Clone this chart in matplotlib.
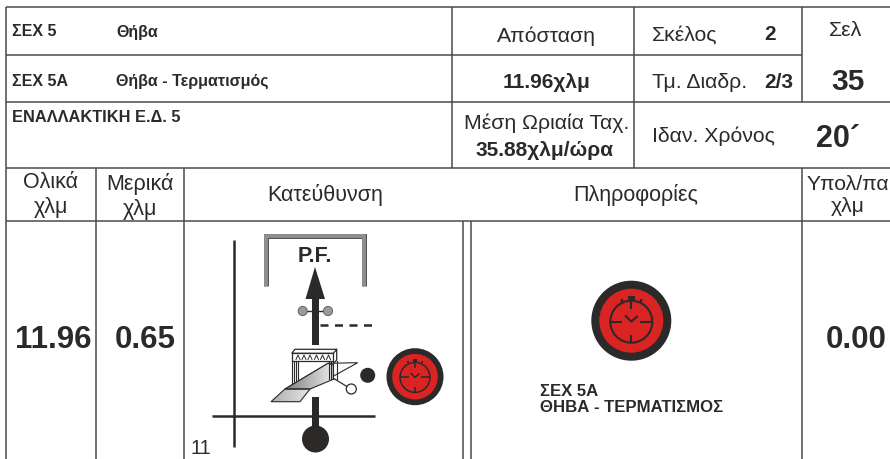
"""
Road book sheet, one page: stage header, table row and junction sketch.
"""

import matplotlib

matplotlib.use("Agg")
import matplotlib.pyplot as plt
import numpy as np
from matplotlib.patches import Circle, Polygon

plt.rcParams["font.family"] = ["Liberation Sans", "DejaVu Sans"]

INK = "#2b2a29"
RULE = "#4a4a4a"
RED = "#da2424"
GREY = "#9a9a9a"

stage_codes = ["ΣΕΧ 5", "ΣΕΧ 5Α"]
stage_names = ["Θήβα", "Θήβα - Τερματισμός"]
alt_route = "ΕΝΑΛΛΑΚΤΙΚΗ Ε.Δ. 5"
distance_label = "Απόσταση"
distance_value = "11.96χλμ"
leg_label, leg_value = "Σκέλος", "2"
section_label, section_value = "Τμ. Διαδρ.", "2/3"
page_label, page_value = "Σελ", "35"
speed_label, speed_value = "Μέση Ωριαία Ταχ.", "35.88χλμ/ώρα"
time_label, time_value = "Ιδαν. Χρόνος", "20´"
col_headers = ["Ολικά\nχλμ", "Μερικά\nχλμ", "Κατεύθυνση", "Πληροφορίες", "Υπολ/πα\nχλμ"]
row_values = ["11.96", "0.65", "0.00"]
info_lines = "ΣΕΧ 5Α\nΘΗΒΑ - ΤΕΡΜΑΤΙΣΜΟΣ"
road_number = "11"
sketch_label = "P.F."


def label(ax, x, y, s, size, weight="normal", ha="center", va="center", **kw):
    ax.text(x, y, s, fontsize=size, fontweight=weight, ha=ha, va=va, color=INK, **kw)


def stopwatch(ax, cx, cy, r, zorder=5):
    k = r / 40.0
    ax.add_patch(Circle((cx, cy), r, fc=INK, ec="none", zorder=zorder))
    ax.add_patch(Circle((cx, cy), 32 * k, fc=RED, ec="none", zorder=zorder + 1))
    dy = 1 * k
    lw = 1.4 * k + 0.1
    ax.add_patch(Circle((cx, cy + dy), 21 * k, fc="none", ec=INK, lw=lw, zorder=zorder + 2))
    for dx0, dy0, dx1, dy1 in [(0, -21, 0, -13), (0, 21, 0, 13), (-21, 0, -9, 0), (21, 0, 9, 0)]:
        ax.plot(
            [cx + dx0 * k, cx + dx1 * k],
            [cy + dy + dy0 * k, cy + dy + dy1 * k],
            color=INK, lw=lw, zorder=zorder + 2, solid_capstyle="butt",
        )
    # hands
    ax.plot(
        [cx - 5.5 * k, cx, cx + 5.5 * k],
        [cy - 4.5 * k, cy + 1 * k, cy - 4 * k],
        color=INK, lw=lw, zorder=zorder + 2,
    )
    # crown and lugs
    ax.fill_between(
        [cx - 3.5 * k, cx + 3.5 * k], cy - 25 * k, cy - 20 * k, color=INK, lw=0, zorder=zorder + 2
    )
    for side in (-1, 1):
        ax.plot(
            [cx + side * 9.5 * k, cx + side * 9.5 * k], [cy - 22 * k, cy - 19 * k],
            color=INK, lw=lw * 1.2, zorder=zorder + 2, solid_capstyle="butt",
        )


def shaded(ax, corners, lo, hi, zorder=3.5):
    patch = Polygon(corners, closed=True, fc="none", ec=INK, lw=0.8, zorder=zorder + 0.5)
    ax.add_patch(patch)
    xs = [c[0] for c in corners]
    ys = [c[1] for c in corners]
    im = ax.imshow(
        np.linspace(lo, hi, 64).reshape(1, -1), cmap="gray", vmin=0, vmax=1,
        extent=(min(xs), max(xs), max(ys), min(ys)), aspect="auto", zorder=zorder,
    )
    im.set_clip_path(patch)


def main():
    fig = plt.figure(figsize=(8.9, 4.59), dpi=100)
    ax = fig.add_axes([0, 0, 1, 1])
    ax.set_xlim(0, 890)
    ax.set_ylim(459, 0)
    ax.axis("off")

    # Table rules ##########################################################
    for y, x0, x1 in [
        (7, 6, 890), (55, 6, 801.5), (101.5, 6, 890), (168, 6, 890), (220.5, 6, 890),
    ]:
        ax.plot([x0, x1], [y, y], color=RULE, lw=1.1, solid_capstyle="butt")
    for x, y0, y1 in [
        (6, 7, 459), (95.5, 168, 459), (183.5, 168, 459), (452, 7, 168),
        (633.5, 7, 168), (801.5, 7, 101.5), (801.5, 168, 459), (463, 220.5, 459), (470.5, 220.5, 459),
    ]:
        ax.plot([x, x], [y0, y1], color=RULE, lw=1.1, solid_capstyle="butt")

    # Header ###############################################################
    label(ax, 12, 32, stage_codes[0], 11.5, "bold", ha="left")
    label(ax, 116, 32, stage_names[0], 11.5, "bold", ha="left")
    label(ax, 12, 81, stage_codes[1], 11.5, "bold", ha="left")
    label(ax, 116, 81, stage_names[1], 11.5, "bold", ha="left")
    label(ax, 12, 118, alt_route, 11.8, "bold", ha="left")

    label(ax, 546, 36, distance_label, 15.3)
    label(ax, 546.5, 82.5, distance_value, 15, "bold")
    label(ax, 652, 35, leg_label, 15.3, ha="left")
    label(ax, 770.5, 35, leg_value, 15, "bold")
    label(ax, 652, 82, section_label, 15.3, ha="left")
    label(ax, 779, 83, section_value, 15, "bold")
    label(ax, 846, 31, page_label, 15.3)
    label(ax, 848, 82, page_value, 21.5, "bold")
    label(ax, 546.5, 123, speed_label, 15.3)
    label(ax, 544, 150, speed_value, 15, "bold")
    label(ax, 652, 136, time_label, 15.3, ha="left")
    label(ax, 838, 139, time_value, 22, "bold")

    # Column headers #######################################################
    for x, y, s, size in zip(
        [51, 140, 325, 636, 847.5], [195, 196.5, 195, 195, 195.5], col_headers,
        [15.5, 15.5, 15.5, 15.5, 15.2],
    ):
        label(ax, x, y, s, size, linespacing=1.2)

    # Row values ###########################################################
    label(ax, 53, 340, row_values[0], 22.5, "bold")
    label(ax, 145, 340, row_values[1], 22.5, "bold")
    label(ax, 856, 340, row_values[2], 22.5, "bold")

    # Info cell ############################################################
    stopwatch(ax, 631.3, 320.7, 40)
    label(ax, 540, 399.5, info_lines, 12.1, "bold", ha="left", linespacing=1.15)

    # Sketch ###############################################################
    ax.plot([234, 234], [240, 447], color=INK, lw=1.8, solid_capstyle="butt")
    ax.plot([212, 375], [415.5, 415.5], color=INK, lw=1.8, solid_capstyle="butt")
    label(ax, 191, 448, road_number, 14.5, ha="left")

    bracket_x = [266, 266, 364, 364]
    bracket_y = [286, 236, 236, 286]
    ax.plot(bracket_x, bracket_y, color="#555555", lw=3.6, solid_joinstyle="miter", solid_capstyle="butt")
    ax.plot(bracket_x, bracket_y, color="#8f8f8f", lw=2.8, solid_joinstyle="miter", solid_capstyle="butt")
    label(ax, 315, 256, sketch_label, 15.5, "bold")

    ax.add_patch(Polygon([(315, 267), (305.5, 299), (325, 299)], fc=INK, ec="none"))
    ax.fill_between([311.7, 319.3], 299, 345, color=INK, lw=0)
    ax.fill_between([312, 319.3], 397, 432, color=INK, lw=0)
    ax.add_patch(Circle((315.5, 439), 13.5, fc=INK, ec="none"))

    ax.plot([302.7, 328], [311, 311], color=INK, lw=1)
    for x in (302.7, 328):
        ax.add_patch(Circle((x, 311), 4.6, fc=GREY, ec="#555555", lw=0.6, zorder=3))
    ax.plot([320, 374], [325, 325], color=INK, lw=1.8, dashes=(3.2, 2.6))

    ax.add_patch(Circle((367.7, 375.3), 7.5, fc=INK, ec="none"))
    ax.plot([333, 351], [378, 389], color=INK, lw=0.9)
    ax.add_patch(Circle((351.3, 389), 5, fc="white", ec=INK, lw=0.9, zorder=3))
    stopwatch(ax, 415, 376.7, 28.5)

    # canopy behind the ramp
    ax.add_patch(Polygon(
        [(291.7, 353.3), (295, 349.3), (336.7, 349.3), (333.3, 353.3)],
        closed=True, fc="white", ec=INK, lw=0.9,
    ))
    ax.add_patch(Polygon(
        [(291.7, 353.3), (333.3, 353.3), (333.3, 360.7), (291.7, 360.7)],
        closed=True, fc="white", ec=INK, lw=0.9,
    ))
    ax.plot([336.7, 336.7, 333.3], [349.3, 360, 364], color=INK, lw=0.9)
    for x in (291.7, 293.8, 296, 298.3):
        ax.plot([x, x], [360.7, 386.7], color=INK, lw=0.8)
    for x in (328.5, 330.5, 333.3, 336.7):
        ax.plot([x, x], [360.7, 379.3], color=INK, lw=0.8, zorder=5)
    for x in (298, 304, 310, 316.5, 322.5, 328.5):
        ax.plot([x - 2, x, x + 2], [359.5, 355, 359.5], color=INK, lw=0.7)

    # ramp: lower apron, shaded run and the white strip beyond the canopy
    shaded(ax, [(271, 401.7), (300, 401.7), (310, 389), (285, 389)], 0.68, 0.9)
    ax.add_patch(Polygon(
        [(285, 389), (310, 389), (357.7, 362.7), (328, 363.3)],
        closed=True, fc="white", ec=INK, lw=0.8, zorder=3.2,
    ))
    shaded(ax, [(285, 389), (310, 389), (333.3, 379.3), (333.3, 365), (328, 363.3)], 0.5, 0.92)
    ax.set_xlim(0, 890)
    ax.set_ylim(459, 0)

    fig.savefig("out.png", dpi=100)


if __name__ == "__main__":
    main()
